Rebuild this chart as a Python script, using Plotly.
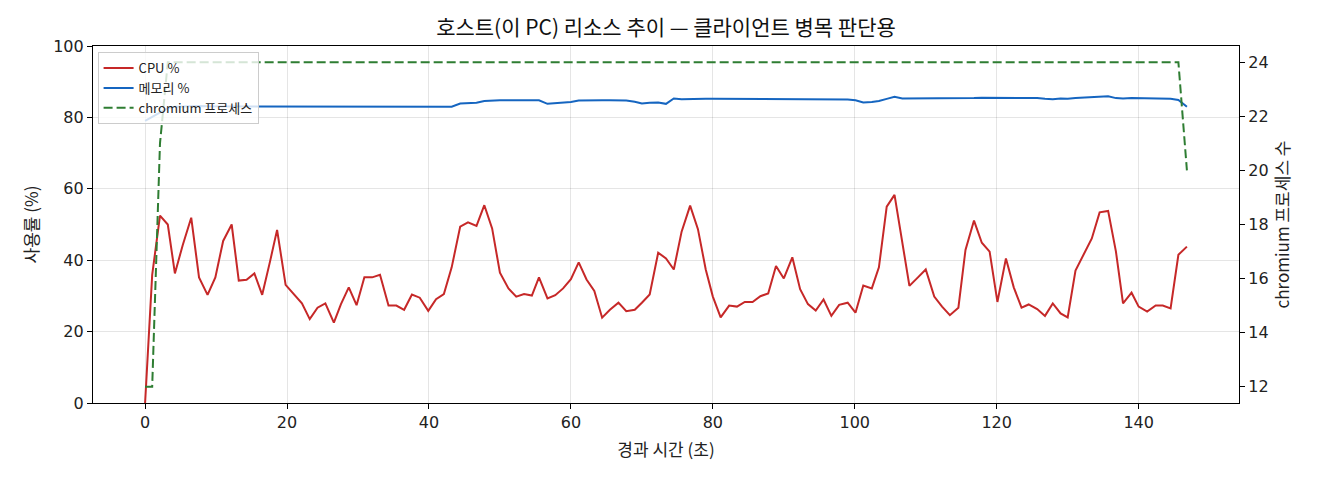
import plotly.graph_objects as go

# elapsed time (s)
time_s = [0, 1.0, 2.1, 3.2, 4.2, 5.3, 6.5, 7.6, 8.8, 9.9,
          11.0, 12.2, 13.2, 14.3, 15.4, 16.5, 17.6, 18.6, 19.8, 20.9,
          22.1, 23.2, 24.3, 25.4, 26.6, 27.6, 28.7, 29.8, 30.9, 32.0,
          33.1, 34.3, 35.4, 36.5, 37.6, 38.7, 39.9, 41.0, 42.1, 43.2,
          44.4, 45.5, 46.7, 47.8, 48.9, 50.0, 51.2, 52.3, 53.4, 54.5,
          55.5, 56.7, 57.8, 58.9, 60.0, 61.1, 62.2, 63.3, 64.4, 65.5,
          66.7, 67.8, 69.0, 70.0, 71.1, 72.3, 73.4, 74.5, 75.6, 76.8,
          77.9, 79.0, 80.0, 81.1, 82.3, 83.4, 84.5, 85.6, 86.7, 87.8,
          88.9, 90.0, 91.2, 92.3, 93.4, 94.5, 95.6, 96.7, 97.8, 99.0,
          100.1, 101.2, 102.4, 103.4, 104.5, 105.6, 106.7, 107.7, 108.9, 110.0,
          111.2, 112.3, 113.4, 114.6, 115.6, 116.8, 117.9, 119.0, 120.1, 121.3,
          122.4, 123.5, 124.5, 125.7, 126.8, 127.9, 129.0, 130.0, 131.1, 132.2,
          133.4, 134.5, 135.7, 136.8, 137.8, 139.0, 140.0, 141.2, 142.4, 143.4,
          144.5, 145.6, 146.8]

cpu_pct = [0, 35.9, 52.5, 50.0, 36.3, 44.2, 51.9, 35.2, 30.3, 35.2,
           45.4, 50.0, 34.3, 34.5, 36.3, 30.3, 39.6, 48.5, 33.1, 30.7,
           27.9, 23.5, 26.7, 27.9, 22.5, 27.7, 32.4, 27.4, 35.2, 35.2,
           35.9, 27.3, 27.3, 26.1, 30.4, 29.5, 25.8, 29.1, 30.5, 38.0,
           49.4, 50.6, 49.6, 55.4, 48.9, 36.5, 32.1, 29.8, 30.5, 30.1,
           35.2, 29.3, 30.2, 32.1, 34.7, 39.4, 34.6, 31.4, 23.9, 26.1,
           28.1, 25.7, 26.1, 28.1, 30.4, 42.1, 40.5, 37.4, 48.0, 55.3,
           48.7, 37.4, 29.8, 24.0, 27.3, 27.0, 28.3, 28.3, 29.9, 30.7,
           38.4, 34.9, 40.8, 31.9, 27.7, 25.9, 29.0, 24.4, 27.5, 28.1,
           25.3, 32.9, 32.1, 38.0, 55.0, 58.3, 45.5, 32.8, 35.2, 37.4,
           29.8, 27.0, 24.6, 26.7, 42.9, 51.1, 44.9, 42.4, 28.3, 40.5,
           32.4, 26.7, 27.6, 26.3, 24.4, 27.9, 25.1, 24.0, 37.1, 41.5,
           46.1, 53.4, 53.8, 42.4, 27.9, 30.9, 27.0, 25.6, 27.3, 27.3,
           26.5, 41.5, 43.8]

mem_pct = [79.0, 80.2, 81.5, 82.6, 83.0, 83.1, 83.2, 83.2, 83.1, 83.1,
           83.1, 83.0, 83.0, 83.0, 83.0, 83.0, 83.0, 83.0, 83.0, 83.0,
           83.0, 83.0, 82.9, 82.9, 82.9, 83.0, 83.0, 83.0, 83.0, 83.1,
           83.1, 83.1, 83.0, 82.9, 82.9, 82.9, 82.9, 82.9, 82.9, 83.0,
           83.9, 84.0, 84.1, 84.6, 84.8, 84.8, 84.8, 84.8, 84.8, 84.8,
           84.8, 83.8, 83.9, 84.1, 84.3, 84.7, 84.8, 84.8, 84.8, 84.8,
           84.8, 84.7, 84.4, 83.9, 84.1, 84.2, 83.8, 85.3, 85.1, 85.2,
           85.2, 85.2, 85.2, 85.2, 85.1, 85.1, 85.1, 85.0, 85.0, 85.0,
           85.0, 85.0, 85.0, 85.0, 85.0, 85.0, 85.0, 85.0, 85.0, 85.0,
           84.8, 84.2, 84.3, 84.6, 85.2, 85.8, 85.3, 85.3, 85.4, 85.4,
           85.2, 85.2, 85.2, 85.2, 85.2, 85.4, 85.5, 85.5, 85.5, 85.5,
           85.5, 85.5, 85.5, 85.4, 85.2, 85.1, 85.3, 85.2, 85.4, 85.5,
           85.6, 85.7, 85.9, 85.4, 85.3, 85.4, 85.4, 85.3, 85.2, 85.2,
           85.2, 84.9, 83.0]

chromium_procs = [12, 12, 21] + [24] * 129 + [20]

x_ticks = [0, 20, 40, 60, 80, 100, 120, 140]
y_ticks = [0, 20, 40, 60, 80, 100]
y2_ticks = [12, 14, 16, 18, 20, 22, 24]

FONT = "DejaVu Sans, Noto Sans CJK KR, sans-serif"
KFONT = "Noto Sans CJK KR, DejaVu Sans, sans-serif"

fig = go.Figure()
fig.add_trace(go.Scatter(x=time_s, y=cpu_pct, mode="lines", name="CPU %",
                         line=dict(color="#c62828", width=2)))
fig.add_trace(go.Scatter(x=time_s, y=mem_pct, mode="lines", name="메모리 %",
                         line=dict(color="#1565c0", width=2)))
fig.add_trace(go.Scatter(x=time_s, y=chromium_procs, mode="lines", name="chromium 프로세스",
                         yaxis="y2",
                         line=dict(color="#2e7d32", width=2, dash="9px,4px")))

axis_common = dict(showline=True, linecolor="black", linewidth=1.2,
                   ticks="outside", ticklen=5, tickcolor="black", tickwidth=1.2,
                   tickfont=dict(size=16, color="#222", family=FONT),
                   zeroline=False)

fig.update_layout(
    width=1312, height=472,
    margin=dict(l=85, r=81, t=38, b=77),
    paper_bgcolor="white", plot_bgcolor="white",
    font=dict(family=KFONT, color="#222", size=15),
    title=dict(text="호스트(이 PC) 리소스 추이 — 클라이언트 병목 판단용",
               x=0.5, xref="paper", xanchor="center",
               y=0.958, yref="container", yanchor="middle",
               font=dict(size=21, color="#111", family=KFONT)),
    xaxis=dict(range=[-7.34, 154.14], tickvals=x_ticks, mirror=True,
               showgrid=True, gridcolor="rgba(0,0,0,0.1)", gridwidth=1,
               title=dict(text="경과 시간 (초)", font=dict(size=17, family=KFONT), standoff=12),
               **axis_common),
    yaxis=dict(range=[0, 100], tickvals=y_ticks, mirror=False,
               showgrid=True, gridcolor="rgba(0,0,0,0.1)", gridwidth=1,
               title=dict(text="사용률 (%)", font=dict(size=17, family=KFONT), standoff=10),
               **axis_common),
    yaxis2=dict(range=[11.4, 24.6], tickvals=y2_ticks, overlaying="y", side="right",
                showgrid=False,
                title=dict(text="chromium 프로세스 수", font=dict(size=17, family=KFONT), standoff=8),
                **axis_common),
    legend=dict(x=0.004, y=0.983, xanchor="left", yanchor="top",
                bgcolor="rgba(255,255,255,0.8)", bordercolor="#cccccc", borderwidth=1,
                font=dict(size=13, color="#222", family=KFONT),
                itemwidth=30, tracegroupgap=0),
    showlegend=True,
)

fig.write_html("out.html")
